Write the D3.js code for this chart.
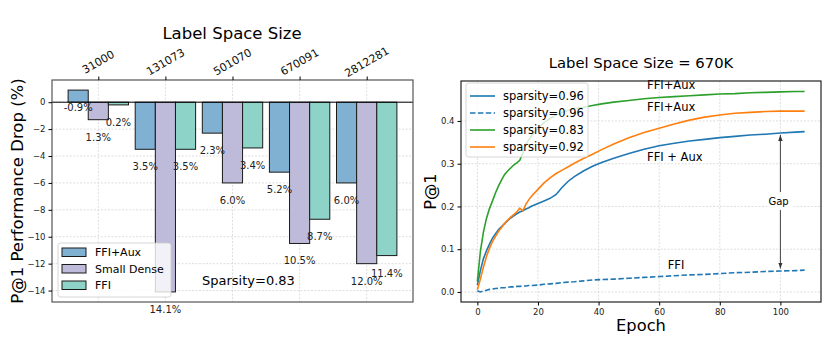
<!DOCTYPE html>
<html>
<head>
<meta charset="utf-8">
<script src="https://cdn.jsdelivr.net/npm/d3@7"></script>
<style>
body { margin: 0; background: #fff; }
svg { font-family: "DejaVu Sans", sans-serif; }
</style>
</head>
<body>
<div id="vis"></div>
<script>
// left panel data
var categories = ["31000", "131073", "501070", "670091", "2812281"];
var ffiAux = [0.9, -3.5, -2.3, -5.2, -6.0];
var smallDense = [-1.3, -14.1, -6.0, -10.5, -12.0];
var ffi = [-0.2, -3.5, -3.4, -8.7, -11.4];
var ffiAuxLabels = ["-0.9%", "3.5%", "2.3%", "5.2%", "6.0%"];
var smallDenseLabels = ["1.3%", "14.1%", "6.0%", "10.5%", "12.0%"];
var ffiLabels = ["0.2%", "3.5%", "3.4%", "8.7%", "11.4%"];
var yTicksLeft = [-14, -12, -10, -8, -6, -4, -2, 0];

// right panel data
var epochs = [0, 1, 2, 3, 4, 5, 6, 7, 8, 9, 10, 11, 12, 13, 14, 15, 16, 17, 18, 20, 22, 24, 26, 28, 30,
  32, 35, 38, 41, 45, 50, 55, 60, 65, 70, 75, 80, 85, 90, 95, 100, 105, 108];
var aux96 = [0.016, 0.050, 0.078, 0.096, 0.112, 0.126, 0.136, 0.146, 0.153, 0.160, 0.167, 0.173, 0.178,
  0.183, 0.187, 0.190, 0.194, 0.197, 0.201, 0.207, 0.213, 0.219, 0.228, 0.245, 0.259, 0.270, 0.283, 0.294,
  0.303, 0.313, 0.324, 0.334, 0.342, 0.348, 0.353, 0.357, 0.361, 0.364, 0.367, 0.369, 0.372, 0.374, 0.375];
var ffi96 = [0.003, 0.000, 0.002, 0.004, 0.006, 0.007, 0.008, 0.009, 0.010, 0.010, 0.011, 0.012, 0.012,
  0.013, 0.013, 0.014, 0.014, 0.015, 0.015, 0.016, 0.018, 0.019, 0.020, 0.022, 0.023, 0.024, 0.026, 0.028,
  0.029, 0.030, 0.032, 0.034, 0.036, 0.038, 0.040, 0.041, 0.043, 0.045, 0.046, 0.048, 0.049, 0.050, 0.051];
var aux83 = [0.024, 0.095, 0.140, 0.172, 0.195, 0.213, 0.232, 0.248, 0.262, 0.275, 0.283, 0.290, 0.297,
  0.302, 0.308, 0.325, 0.345, 0.356, 0.366, 0.382, 0.396, 0.406, 0.414, 0.420, 0.425, 0.429, 0.432, 0.436,
  0.440, 0.444, 0.448, 0.452, 0.455, 0.457, 0.459, 0.461, 0.463, 0.464, 0.466, 0.467, 0.468, 0.469, 0.469];
var aux92 = [0.005, 0.030, 0.058, 0.083, 0.102, 0.118, 0.130, 0.142, 0.151, 0.160, 0.168, 0.175, 0.181,
  0.187, 0.196, 0.190, 0.205, 0.216, 0.225, 0.240, 0.255, 0.267, 0.277, 0.285, 0.293, 0.301, 0.312, 0.322,
  0.333, 0.346, 0.361, 0.373, 0.383, 0.393, 0.402, 0.409, 0.414, 0.418, 0.420, 0.422, 0.423, 0.423, 0.423];
var xTicksRight = [0, 20, 40, 60, 80, 100];
var yTicksRight = [0.0, 0.1, 0.2, 0.3, 0.4];

var svg = d3.select("#vis").append("svg")
  .attr("width", 830)
  .attr("height", 356);

var gridColor = "#d6d6d6";

// ---------- left: bar chart ----------
var xL = d3.scaleLinear().domain([-0.69, 4.69]).range([52, 413]);
var yL = d3.scaleLinear().domain([-14.85, 1.65]).range([302, 80]);
var barW = 0.3;

var left = svg.append("g");

left.selectAll(".gridx").data(d3.range(categories.length)).enter().append("line")
  .attr("x1", d => xL(d)).attr("x2", d => xL(d))
  .attr("y1", yL.range()[1]).attr("y2", yL.range()[0])
  .attr("stroke", gridColor).attr("stroke-width", 0.8).attr("stroke-dasharray", "2,1.5");

left.selectAll(".gridy").data(yTicksLeft).enter().append("line")
  .attr("x1", xL.range()[0]).attr("x2", xL.range()[1])
  .attr("y1", d => yL(d)).attr("y2", d => yL(d))
  .attr("stroke", gridColor).attr("stroke-width", 0.8).attr("stroke-dasharray", "2,1.5");

var barSeries = [
  {name: "FFI+Aux", values: ffiAux, labels: ffiAuxLabels, color: "#80b1d3", off: -barW},
  {name: "Small Dense", values: smallDense, labels: smallDenseLabels, color: "#bebada", off: 0},
  {name: "FFI", values: ffi, labels: ffiLabels, color: "#8dd3c7", off: barW}
];

barSeries.forEach(function(s) {
  left.selectAll(null).data(s.values).enter().append("rect")
    .attr("x", (d, i) => xL(i + s.off - barW / 2))
    .attr("width", xL(barW) - xL(0))
    .attr("y", d => yL(Math.max(0, d)))
    .attr("height", d => Math.abs(yL(d) - yL(0)))
    .attr("fill", s.color)
    .attr("stroke", "#1a1a1a")
    .attr("stroke-width", 1);
});

left.append("line")
  .attr("x1", xL.range()[0]).attr("x2", xL.range()[1])
  .attr("y1", yL(0)).attr("y2", yL(0))
  .attr("stroke", "#000").attr("stroke-width", 1);

barSeries.forEach(function(s) {
  left.selectAll(null).data(s.values).enter().append("text")
    .attr("x", (d, i) => xL(i + s.off))
    .attr("y", d => yL(d - 1.3))
    .attr("dy", "0.35em")
    .attr("text-anchor", "middle")
    .attr("font-size", 10)
    .attr("fill", "#222")
    .text((d, i) => s.labels[i]);
});

left.append("rect")
  .attr("x", 52).attr("y", 80).attr("width", 361).attr("height", 222)
  .attr("fill", "none").attr("stroke", "#555").attr("stroke-width", 1.2);

// y axis
var yAxisL = left.append("g")
  .attr("transform", "translate(52,0)")
  .call(d3.axisLeft(yL).tickValues(yTicksLeft).tickSize(3.5).tickPadding(3).tickFormat(d3.format("d")));
yAxisL.select(".domain").remove();
yAxisL.selectAll("text").attr("font-size", 8.5).attr("font-family", "DejaVu Sans").attr("fill", "#222");

// top axis
var xAxisL = left.append("g")
  .attr("transform", "translate(0,80)")
  .call(d3.axisTop(xL).tickValues(d3.range(categories.length)).tickSize(3.5).tickFormat(""));
xAxisL.select(".domain").remove();

left.selectAll(".toplab").data(categories).enter().append("text")
  .attr("transform", (d, i) => "translate(" + xL(i) + ",62) rotate(-30)")
  .attr("text-anchor", "middle")
  .attr("dy", "0.35em")
  .attr("font-size", 11)
  .attr("fill", "#111")
  .text(d => d);

left.append("text")
  .attr("x", 232).attr("y", 39)
  .attr("text-anchor", "middle")
  .attr("font-size", 16.5)
  .text("Label Space Size");

left.append("text")
  .attr("transform", "translate(23,191) rotate(-90)")
  .attr("text-anchor", "middle")
  .attr("font-size", 16.5)
  .text("P@1 Performance Drop (%)");

left.append("text")
  .attr("x", 202).attr("y", 285)
  .attr("font-size", 13)
  .text("Sparsity=0.83");

// left legend
var legL = left.append("g").attr("transform", "translate(58,243)");
legL.append("rect")
  .attr("width", 113).attr("height", 54).attr("rx", 2.5)
  .attr("fill", "#fff").attr("fill-opacity", 0.8)
  .attr("stroke", "#cccccc").attr("stroke-width", 0.8);
barSeries.forEach(function(s, i) {
  legL.append("rect")
    .attr("x", 4).attr("y", 5 + i * 16.5).attr("width", 24).attr("height", 8.5)
    .attr("fill", s.color).attr("stroke", "#1a1a1a").attr("stroke-width", 1);
  legL.append("text")
    .attr("x", 37).attr("y", 9.5 + i * 16.5).attr("dy", "0.35em")
    .attr("font-size", 11)
    .text(s.name);
});

// ---------- right: line chart ----------
var xR = d3.scaleLinear().domain([-5.4, 113.4]).range([461, 821]);
var yR = d3.scaleLinear().domain([-0.0235, 0.4935]).range([302, 81]);

var right = svg.append("g");

right.selectAll(".gridx").data(xTicksRight).enter().append("line")
  .attr("x1", d => xR(d)).attr("x2", d => xR(d))
  .attr("y1", yR.range()[1]).attr("y2", yR.range()[0])
  .attr("stroke", gridColor).attr("stroke-width", 0.8).attr("stroke-dasharray", "2,1.5");
right.selectAll(".gridy").data(yTicksRight).enter().append("line")
  .attr("x1", xR.range()[0]).attr("x2", xR.range()[1])
  .attr("y1", d => yR(d)).attr("y2", d => yR(d))
  .attr("stroke", gridColor).attr("stroke-width", 0.8).attr("stroke-dasharray", "2,1.5");

var lineSeries = [
  {name: "sparsity=0.96", values: aux96, color: "#1f77b4", dash: null},
  {name: "sparsity=0.96", values: ffi96, color: "#1f77b4", dash: "5.5,2.4"},
  {name: "sparsity=0.83", values: aux83, color: "#2ca02c", dash: null},
  {name: "sparsity=0.92", values: aux92, color: "#ff7f0e", dash: null}
];

var line = d3.line()
  .x((d, i) => xR(epochs[i]))
  .y(d => yR(d));

lineSeries.forEach(function(s) {
  right.append("path")
    .attr("d", line(s.values))
    .attr("fill", "none")
    .attr("stroke", s.color)
    .attr("stroke-width", 1.6)
    .attr("stroke-dasharray", s.dash);
});

// annotations
right.append("text").attr("x", xR(56)).attr("y", yR(0.474)).attr("font-size", 11.5).text("FFI+Aux");
right.append("text").attr("x", xR(56)).attr("y", yR(0.4237)).attr("font-size", 11.5).text("FFI+Aux");
right.append("text").attr("x", xR(56)).attr("y", yR(0.307)).attr("font-size", 11.5).text("FFI + Aux");
right.append("text").attr("x", xR(62.8)).attr("y", yR(0.053)).attr("font-size", 11.5).text("FFI");

var defs = svg.append("defs");
["head", "tail"].forEach(function(id) {
  defs.append("marker")
    .attr("id", id)
    .attr("viewBox", "0 -3 6 6")
    .attr("refX", 6).attr("refY", 0)
    .attr("markerWidth", 6).attr("markerHeight", 6)
    .attr("markerUnits", "userSpaceOnUse")
    .attr("orient", "auto-start-reverse")
    .append("path").attr("d", "M0,-2.2L6,0L0,2.2Z").attr("fill", "#333");
});

right.append("line")
  .attr("x1", xR(100)).attr("x2", xR(100))
  .attr("y1", yR(aux96[40]) + 2).attr("y2", yR(ffi96[40]) - 2.5)
  .attr("stroke", "#444").attr("stroke-width", 1)
  .attr("marker-start", "url(#head)")
  .attr("marker-end", "url(#tail)");

right.append("rect")
  .attr("x", xR(100) - 13).attr("y", yR(0.2126) - 9).attr("width", 26).attr("height", 18)
  .attr("fill", "#fff");
right.append("text")
  .attr("x", xR(99.4)).attr("y", yR(0.2126)).attr("dy", "0.35em")
  .attr("text-anchor", "middle").attr("font-size", 10)
  .text("Gap");

right.append("rect")
  .attr("x", 461).attr("y", 81).attr("width", 360).attr("height", 221)
  .attr("fill", "none").attr("stroke", "#222").attr("stroke-width", 1.2);

var yAxisR = right.append("g")
  .attr("transform", "translate(461,0)")
  .call(d3.axisLeft(yR).tickValues(yTicksRight).tickSize(3.5).tickPadding(3).tickFormat(d3.format(".1f")));
yAxisR.select(".domain").remove();
yAxisR.selectAll("text").attr("font-size", 8.5).attr("font-family", "DejaVu Sans").attr("fill", "#222");

var xAxisR = right.append("g")
  .attr("transform", "translate(0,302)")
  .call(d3.axisBottom(xR).tickValues(xTicksRight).tickSize(3.5).tickPadding(3).tickFormat(d3.format("d")));
xAxisR.select(".domain").remove();
xAxisR.selectAll("text").attr("font-size", 8.5).attr("font-family", "DejaVu Sans").attr("fill", "#222");

right.append("text")
  .attr("x", 641).attr("y", 68)
  .attr("text-anchor", "middle")
  .attr("font-size", 14.8)
  .text("Label Space Size = 670K");

right.append("text")
  .attr("x", 641).attr("y", 331)
  .attr("text-anchor", "middle")
  .attr("font-size", 16.3)
  .text("Epoch");

right.append("text")
  .attr("transform", "translate(436,191.5) rotate(-90)")
  .attr("text-anchor", "middle")
  .attr("font-size", 16.3)
  .text("P@1");

// right legend
var legR = right.append("g").attr("transform", "translate(466,83)");
legR.append("rect")
  .attr("width", 122).attr("height", 74).attr("rx", 2.5)
  .attr("fill", "#fff").attr("fill-opacity", 0.8)
  .attr("stroke", "#cccccc").attr("stroke-width", 0.8);
lineSeries.forEach(function(s, i) {
  legR.append("line")
    .attr("x1", 4).attr("x2", 29)
    .attr("y1", 13 + i * 17).attr("y2", 13 + i * 17)
    .attr("stroke", s.color).attr("stroke-width", 1.6)
    .attr("stroke-dasharray", s.dash);
  legR.append("text")
    .attr("x", 37).attr("y", 13 + i * 17).attr("dy", "0.35em")
    .attr("font-size", 11.5)
    .text(s.name);
});
</script>
</body>
</html>
